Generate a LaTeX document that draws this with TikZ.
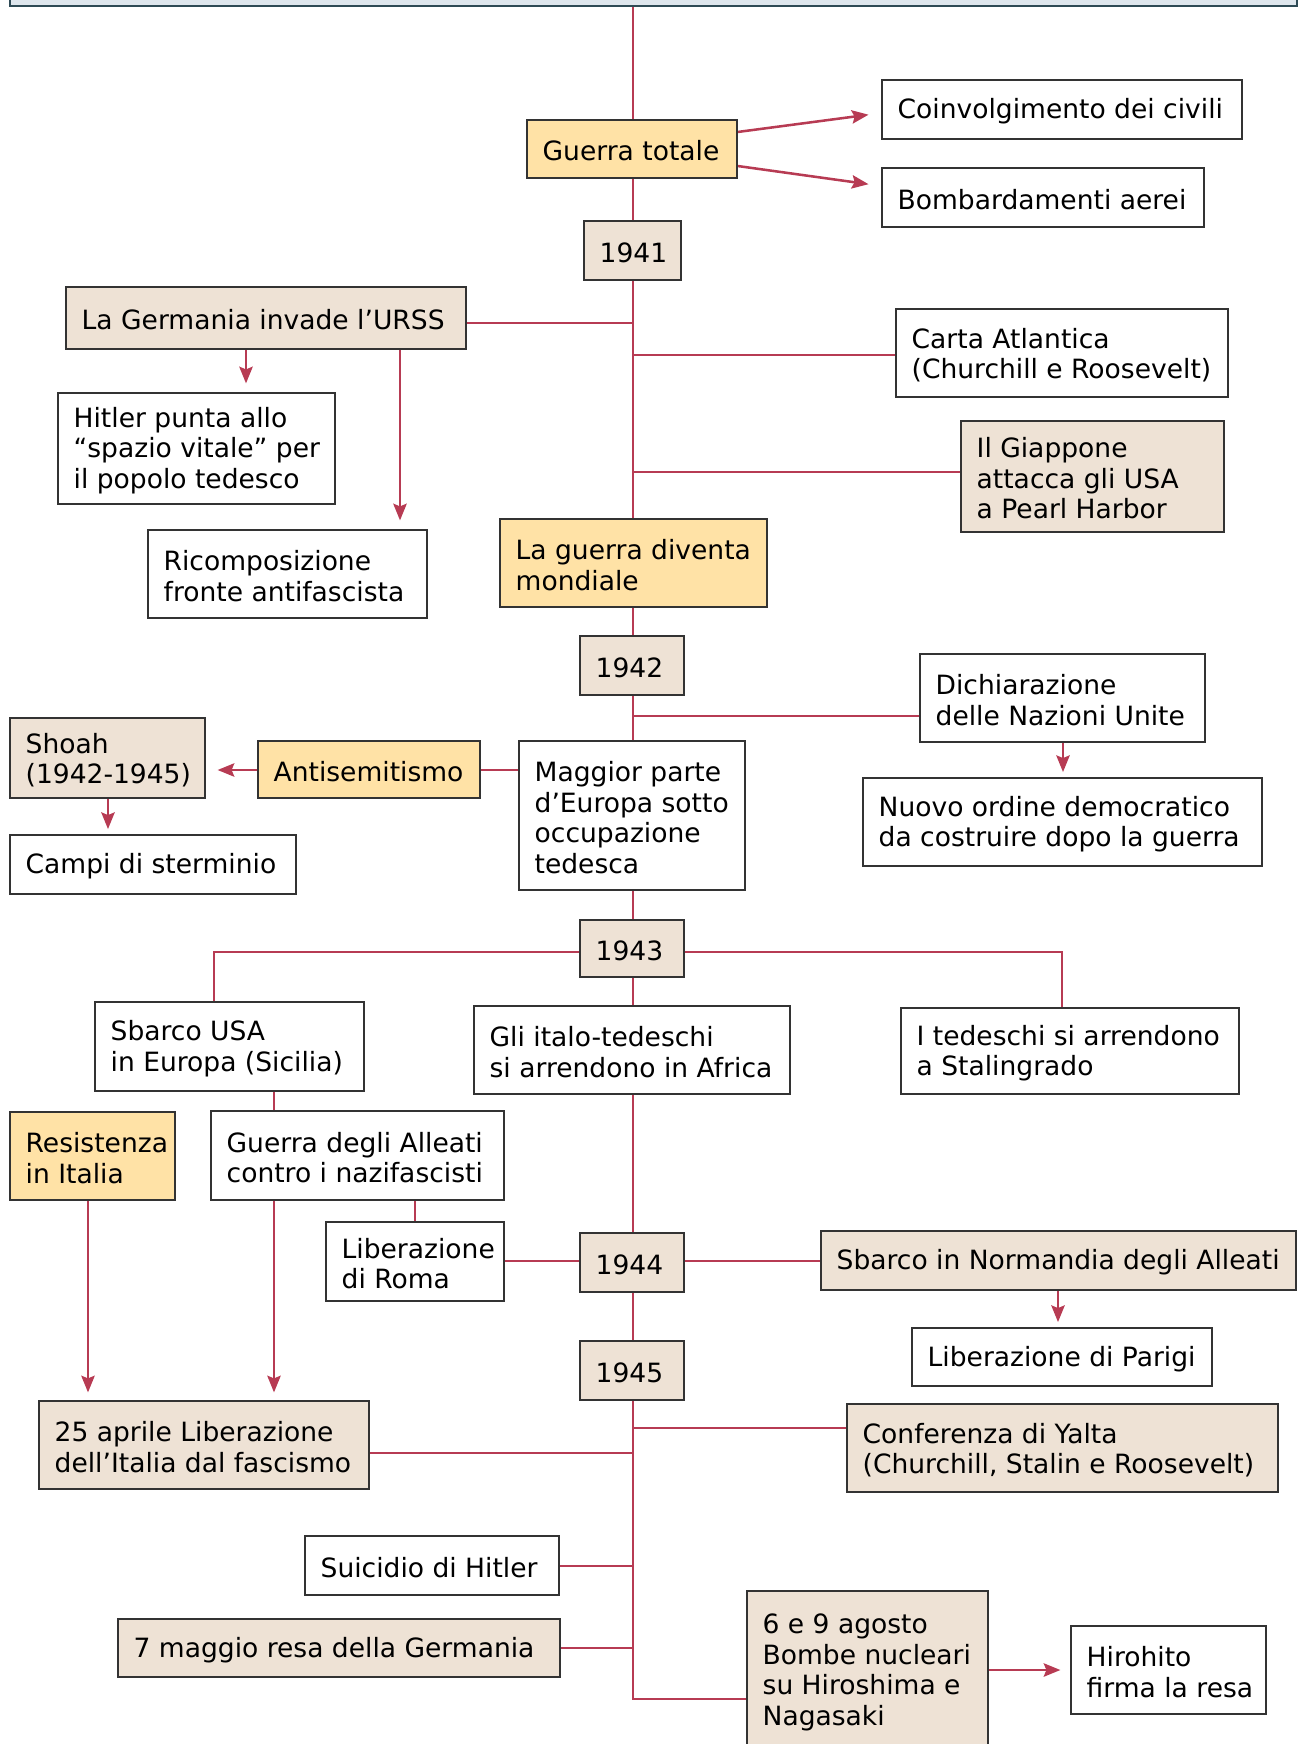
\documentclass[tikz,border=0pt]{standalone}
\usepackage{fontspec}
\setmainfont{DejaVu Sans}
\usetikzlibrary{arrows.meta,backgrounds}
\definecolor{lncol}{HTML}{B73B53}
\definecolor{yel}{HTML}{FFE2A6}
\definecolor{bei}{HTML}{EEE2D5}
\definecolor{bandfill}{HTML}{DEE6ED}
\definecolor{banddraw}{HTML}{2E4A55}
\definecolor{boxdraw}{HTML}{333333}
\tikzset{
 bx/.style={draw=boxdraw, line width=0.9pt, inner sep=0pt, rectangle},
 wbox/.style={bx, fill=white},
 ybox/.style={bx, fill=yel},
 bbox/.style={bx, fill=bei},
 txt/.style={anchor=west, align=left, inner sep=0pt, font=\fontsize{19.9}{22.9}\selectfont},
 ln/.style={draw=lncol, line width=1.9pt},
 arr/.style={ln, -{Stealth[length=12.5pt,width=10pt,inset=2pt]}, shorten >=5pt},
}
\newcommand\mkbox[7]{%
 \pgfmathsetmacro\bxw{(#5-#3)*0.75}%
 \pgfmathsetmacro\bxh{(#6-#4)*0.75}%
 \node[#2, minimum width=\bxw pt, minimum height=\bxh pt] (#1) at ({(#3+#5)/2},{(#4+#6)/2}) {};
 \node[txt] (#1-t) at ([xshift=12pt,yshift=-1.5pt]#1.west) {#7};}
\begin{document}
\begin{tikzpicture}[x=0.75pt,y=-0.75pt]
\useasboundingbox (0,0) rectangle (1300,1744);
\node[draw=banddraw, fill=bandfill, line width=1.1pt, inner sep=0pt, minimum width=965.25pt, minimum height=22.5pt] (band) at (653.5,-9) {};
\coordinate (sp) at (633,1699);

\mkbox{gt}{ybox}{527}{120}{737}{178}{Guerra totale}
\mkbox{coinv}{wbox}{882}{80}{1242}{139}{Coinvolgimento dei civili}
\mkbox{bomb}{wbox}{882}{168}{1204}{227}{Bombardamenti aerei}
\mkbox{y41}{bbox}{584}{221}{681}{280}{1941}
\mkbox{germ}{bbox}{66}{287}{466}{349}{La Germania invade l’URSS}
\mkbox{hitler}{wbox}{58}{393}{335}{504}{Hitler punta allo\\“spazio vitale” per\\il popolo tedesco}
\mkbox{ricomp}{wbox}{148}{530}{427}{618}{Ricomposizione\\fronte antifascista}
\mkbox{carta}{wbox}{896}{309}{1228}{397}{Carta Atlantica\\(Churchill e Roosevelt)}
\mkbox{giap}{bbox}{961}{421}{1224}{532}{Il Giappone\\attacca gli USA\\a Pearl Harbor}
\mkbox{mond}{ybox}{500}{519}{767}{607}{La guerra diventa\\mondiale}
\mkbox{y42}{bbox}{580}{636}{684}{695}{1942}
\mkbox{dich}{wbox}{920}{654}{1205}{742}{Dichiarazione\\delle Nazioni Unite}
\mkbox{nuovo}{wbox}{863}{778}{1262}{866}{Nuovo ordine democratico\\da costruire dopo la guerra}
\mkbox{shoah}{bbox}{10}{718}{205}{798}{Shoah\\(1942-1945)}
\mkbox{antis}{ybox}{258}{741}{480}{798}{Antisemitismo}
\mkbox{magg}{wbox}{519}{741}{745}{890}{Maggior parte\\d’Europa sotto\\occupazione\\tedesca}
\mkbox{campi}{wbox}{10}{835}{296}{894}{Campi di sterminio}
\mkbox{y43}{bbox}{580}{920}{684}{977}{1943}
\mkbox{sbusa}{wbox}{95}{1002}{364}{1091}{Sbarco USA\\in Europa (Sicilia)}
\mkbox{italo}{wbox}{474}{1006}{790}{1094}{Gli italo-tedeschi\\si arrendono in Africa}
\mkbox{stal}{wbox}{901}{1008}{1239}{1094}{I tedeschi si arrendono\\a Stalingrado}
\mkbox{resis}{ybox}{10}{1112}{175}{1200}{Resistenza\\in Italia}
\mkbox{alleati}{wbox}{211}{1111}{504}{1200}{Guerra degli Alleati\\contro i nazifascisti}
\mkbox{roma}{wbox}{326}{1222}{504}{1301}{Liberazione\\di Roma}
\mkbox{y44}{bbox}{580}{1233}{684}{1292}{1944}
\mkbox{norm}{bbox}{821}{1231}{1296}{1290}{Sbarco in Normandia degli Alleati}
\mkbox{parigi}{wbox}{912}{1328}{1212}{1386}{Liberazione di Parigi}
\mkbox{y45}{bbox}{580}{1341}{684}{1400}{1945}
\mkbox{apr}{bbox}{39}{1401}{369}{1489}{25 aprile Liberazione\\dell’Italia dal fascismo}
\mkbox{yalta}{bbox}{847}{1404}{1278}{1492}{Conferenza di Yalta\\(Churchill, Stalin e Roosevelt)}
\mkbox{suic}{wbox}{305}{1536}{559}{1595}{Suicidio di Hitler}
\mkbox{mag7}{bbox}{118}{1619}{560}{1677}{7 maggio resa della Germania}
\mkbox{agosto}{bbox}{747}{1591}{988}{1750}{6 e 9 agosto\\Bombe nucleari\\su Hiroshima e\\Nagasaki}
\mkbox{hiro}{wbox}{1071}{1626}{1266}{1714}{Hirohito\\firma la resa}

\begin{pgfonlayer}{background}
\draw[ln] (band.south -| sp) -- (sp) -- (sp -| agosto.west);
\draw[arr, shorten >=9.75pt] (gt.east |- 0,132) -- (coinv.west |- 0,113);
\draw[arr, shorten >=9.75pt] (gt.east |- 0,166) -- (bomb.west |- 0,186);
\draw[ln] (germ.east |- 0,323) -- (sp |- 0,323);
\draw[arr, shorten >=6.75pt] (germ.south -| 246,0) -- (hitler.north -| 246,0);
\draw[arr, shorten >=6.75pt] (germ.south -| 400,0) -- (ricomp.north -| 400,0);
\draw[ln] (sp |- 0,355) -- (carta.west |- 0,355);
\draw[ln] (sp |- 0,472) -- (giap.west |- 0,472);
\draw[ln] (sp |- 0,716) -- (dich.west |- 0,716);
\draw[arr, shorten >=4pt] (dich.south -| 1063,0) -- (nuovo.north -| 1063,0);
\draw[ln] (antis.east |- 0,770) -- (magg.west |- 0,770);
\draw[arr, shorten >=9pt] (antis.west |- 0,770) -- (shoah.east |- 0,770);
\draw[arr, shorten >=4pt] (shoah.south -| 108,0) -- (campi.north -| 108,0);
\draw[ln] (y43.west |- 0,952) -- (214,952) -- (sbusa.north -| 214,0);
\draw[ln] (y43.east |- 0,952) -- (1062,952) -- (stal.north -| 1062,0);
\draw[ln] (sbusa.south -| 274,0) -- (alleati.north -| 274,0);
\draw[ln] (alleati.south -| 415,0) -- (roma.north -| 415,0);
\draw[ln] (roma.east |- 0,1261) -- (y44.west |- 0,1261);
\draw[ln] (y44.east |- 0,1261) -- (norm.west |- 0,1261);
\draw[arr, shorten >=4pt] (norm.south -| 1058,0) -- (parigi.north -| 1058,0);
\draw[arr, shorten >=6pt] (resis.south -| 88,0) -- (apr.north -| 88,0);
\draw[arr, shorten >=6pt] (alleati.south -| 274,0) -- (apr.north -| 274,0);
\draw[ln] (apr.east |- 0,1453) -- (sp |- 0,1453);
\draw[ln] (sp |- 0,1428) -- (yalta.west |- 0,1428);
\draw[ln] (suic.east |- 0,1566) -- (sp |- 0,1566);
\draw[ln] (mag7.east |- 0,1648) -- (sp |- 0,1648);
\draw[arr, shorten >=7.5pt] (agosto.east |- 0,1670) -- (hiro.west |- 0,1670);
\end{pgfonlayer}
\end{tikzpicture}
\end{document}
